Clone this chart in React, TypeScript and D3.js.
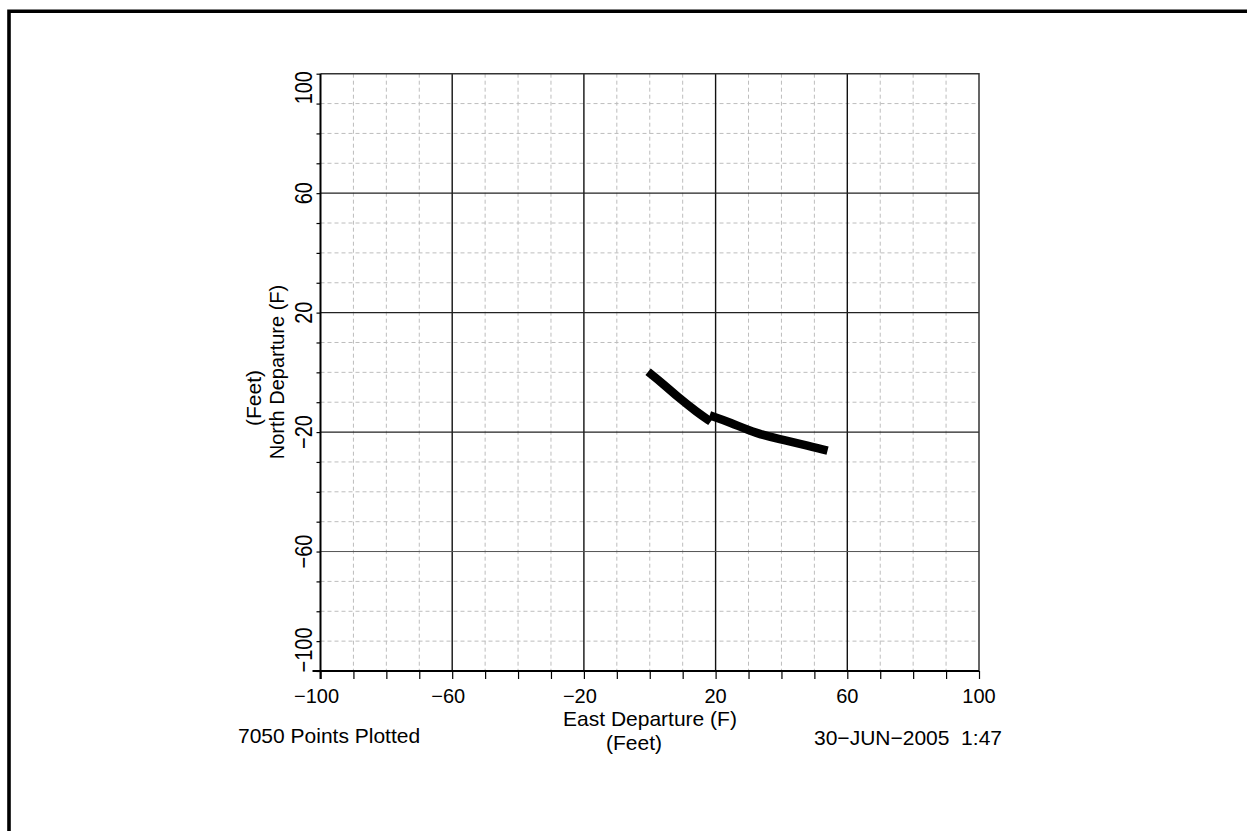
import * as d3 from "d3";
import React, { useEffect, useRef } from "react";

// survey track, two recorded runs (east, north in feet)
const runOneEast = [-0.5, 4, 9.1, 14.2, 18.5];
const runOneNorth = [0.2, -3.8, -8.8, -13.2, -16.5];
const runTwoEast = [18.2, 24.3, 32.4, 39.5, 46.5, 54];
const runTwoNorth = [-14.4, -16.7, -20.5, -22.4, -24.1, -26.2];

const majorTicks = [-100, -60, -20, 20, 60, 100];
const minorTicks = d3.range(-90, 100, 10);
const majorGrid = [-60, -20, 20, 60];

const pointsLabel = "7050 Points Plotted";
const dateLabel = "30\u2212JUN\u22122005  1:47";
const xTitle = "East Departure (F)";
const yTitle = "North Departure (F)";
const unitTitle = "(Feet)";

const fmt = (v: number) => (v < 0 ? "\u2212" + Math.abs(v) : String(v));

export default function App() {
  const svgRef = useRef<SVGSVGElement>(null);
  const width = 1247;
  const height = 831;
  const margin = { top: 73.7, right: 268, bottom: 160, left: 320.5 };

  useEffect(() => {
    const svgEl = d3.select(svgRef.current);
    svgEl.selectAll("*").remove();
    const font = "'Liberation Sans', Arial, sans-serif";

    const x = d3
      .scaleLinear()
      .domain([-100, 100])
      .range([margin.left, width - margin.right]);
    const y = d3
      .scaleLinear()
      .domain([-100, 100])
      .range([height - margin.bottom, margin.top]);

    // outer frame (only left and top are on the page)
    svgEl
      .append("path")
      .attr("d", `M9,${height + 5} L9,11.3 L${width + 5},11.3`)
      .attr("fill", "none")
      .attr("stroke", "#000")
      .attr("stroke-width", 3.6);

    const g = svgEl.append("g");

    // minor dashed grid
    g.selectAll("line.vminor")
      .data(minorTicks.filter((t) => !majorGrid.includes(t)))
      .enter()
      .append("line")
      .attr("x1", (d) => x(d))
      .attr("x2", (d) => x(d))
      .attr("y1", y(100))
      .attr("y2", y(-100))
      .attr("stroke", "#bdbdbd")
      .attr("stroke-dasharray", "4,3");
    g.selectAll("line.hminor")
      .data(minorTicks.filter((t) => !majorGrid.includes(t)))
      .enter()
      .append("line")
      .attr("y1", (d) => y(d))
      .attr("y2", (d) => y(d))
      .attr("x1", x(-100))
      .attr("x2", x(100))
      .attr("stroke", "#bdbdbd")
      .attr("stroke-dasharray", "4,3");

    // major solid grid
    g.selectAll("line.vmajor")
      .data(majorGrid)
      .enter()
      .append("line")
      .attr("x1", (d) => x(d))
      .attr("x2", (d) => x(d))
      .attr("y1", y(100))
      .attr("y2", y(-100))
      .attr("stroke", "#111")
      .attr("stroke-width", 1.4);
    g.selectAll("line.hmajor")
      .data(majorGrid)
      .enter()
      .append("line")
      .attr("y1", (d) => y(d))
      .attr("y2", (d) => y(d))
      .attr("x1", x(-100))
      .attr("x2", x(100))
      .attr("stroke", (d) => (d === -60 ? "#555" : "#222"))
      .attr("stroke-width", (d) => (d === -60 ? 1 : 1.4));

    // plot box: top and right thin
    g.append("path")
      .attr("d", `M${x(-100)},${y(100)} L${x(100)},${y(100)} L${x(100)},${y(-100)}`)
      .attr("fill", "none")
      .attr("stroke", "#333")
      .attr("stroke-width", 1.5);

    // axes
    const xAxis = svgEl
      .append("g")
      .attr("transform", `translate(0,${y(-100)})`)
      .call(
        d3
          .axisBottom(x)
          .tickValues(d3.range(-100, 101, 10))
          .tickSize(8)
          .tickFormat(() => "")
      );
    xAxis.select(".domain").remove();
    xAxis.selectAll("line").attr("stroke", "#000").attr("stroke-width", 1.2);
    xAxis
      .append("line")
      .attr("x1", x(-100) - 8)
      .attr("x2", x(100))
      .attr("stroke", "#000")
      .attr("stroke-width", 2);

    const yAxis = svgEl
      .append("g")
      .attr("transform", `translate(${x(-100)},0)`)
      .call(
        d3
          .axisLeft(y)
          .tickValues(d3.range(-100, 101, 10))
          .tickSize(4)
          .tickFormat(() => "")
      );
    yAxis.select(".domain").remove();
    yAxis.selectAll("line").attr("stroke", "#000").attr("stroke-width", 1.2);
    yAxis
      .append("line")
      .attr("y1", y(100))
      .attr("y2", y(-100) + 8)
      .attr("stroke", "#000")
      .attr("stroke-width", 2);

    // x tick labels
    svgEl
      .append("g")
      .selectAll("text")
      .data(majorTicks)
      .enter()
      .append("text")
      .attr("x", (d) => x(d) + (d < 0 ? -4 : 0))
      .attr("y", 703)
      .attr("text-anchor", "middle")
      .attr("font-family", font)
      .attr("font-size", 20)
      .text((d) => fmt(d));

    // y tick labels, rotated and a little tall; end labels kept inside the box
    svgEl
      .append("g")
      .selectAll("text")
      .data(majorTicks)
      .enter()
      .append("text")
      .attr("transform", (d) => {
        let cy = y(d);
        if (d === 100) cy = y(100) + 14;
        if (d === -100) cy = y(-100) - 21;
        return `translate(312,${cy}) rotate(-90) scale(1,1.22)`;
      })
      .attr("text-anchor", "middle")
      .attr("font-family", font)
      .attr("font-size", 20)
      .text((d) => fmt(d));

    // track
    const line = d3
      .line<[number, number]>()
      .x((d) => x(d[0]))
      .y((d) => y(d[1]))
      .curve(d3.curveBasis);
    const runs = [
      runOneEast.map((e, i) => [e, runOneNorth[i]] as [number, number]),
      runTwoEast.map((e, i) => [e, runTwoNorth[i]] as [number, number]),
    ];
    svgEl
      .append("g")
      .selectAll("path")
      .data(runs)
      .enter()
      .append("path")
      .attr("d", (d) => line(d))
      .attr("fill", "none")
      .attr("stroke", "#000")
      .attr("stroke-width", 8.5);

    // titles
    svgEl
      .append("text")
      .attr("x", 650)
      .attr("y", 726)
      .attr("text-anchor", "middle")
      .attr("font-family", font)
      .attr("font-size", 21)
      .text(xTitle);
    svgEl
      .append("text")
      .attr("x", 634)
      .attr("y", 750)
      .attr("text-anchor", "middle")
      .attr("font-family", font)
      .attr("font-size", 21)
      .text(unitTitle);
    svgEl
      .append("text")
      .attr("transform", "translate(284,372) rotate(-90)")
      .attr("text-anchor", "middle")
      .attr("font-family", font)
      .attr("font-size", 20)
      .text(yTitle);
    svgEl
      .append("text")
      .attr("transform", "translate(261,398) rotate(-90)")
      .attr("text-anchor", "middle")
      .attr("font-family", font)
      .attr("font-size", 21)
      .text(unitTitle);

    svgEl
      .append("text")
      .attr("x", 238)
      .attr("y", 743)
      .attr("font-family", font)
      .attr("font-size", 21)
      .text(pointsLabel);
    svgEl
      .append("text")
      .attr("x", 1002)
      .attr("y", 745)
      .attr("text-anchor", "end")
      .attr("font-family", font)
      .attr("font-size", 21)
      .style("white-space", "pre")
      .text(dateLabel);
  });

  return (
    <svg
      ref={svgRef}
      width={width}
      height={height}
      style={{ position: "absolute", left: 0, top: 0, background: "#fff" }}
    ></svg>
  );
}
